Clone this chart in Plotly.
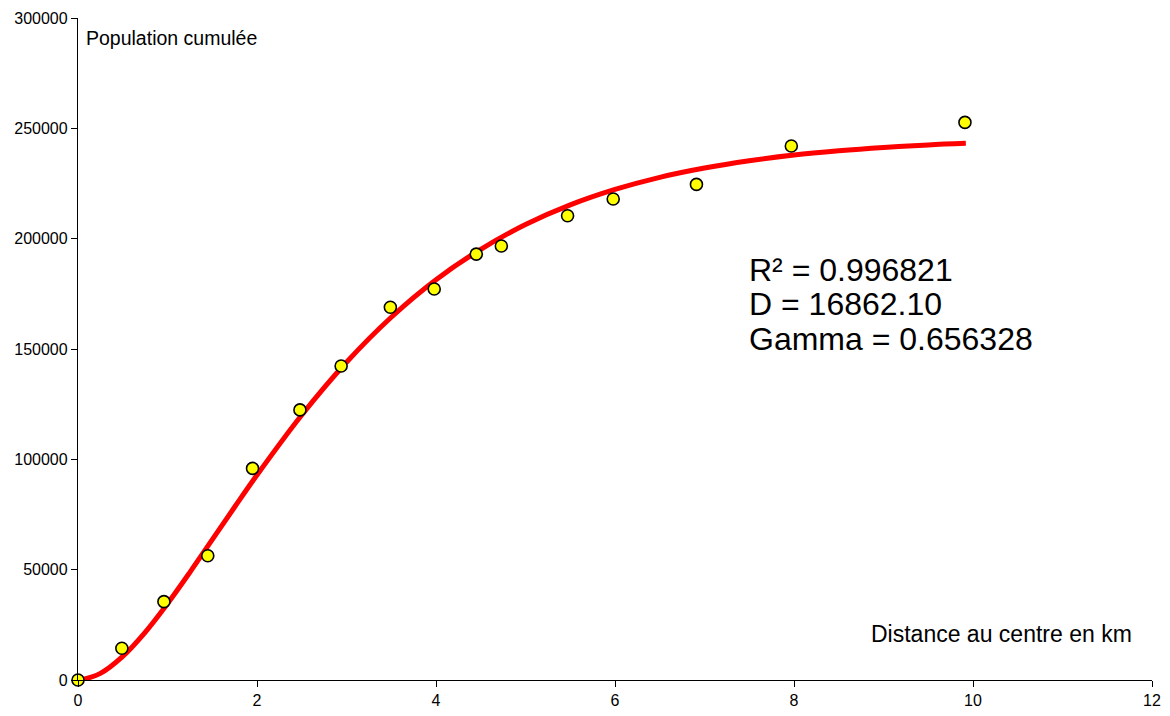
import plotly.graph_objects as go

# Observed data (distance in km, cumulative population)
dist_km = [0.0, 0.49, 0.96, 1.45, 1.95, 2.48, 2.94, 3.49, 3.98, 4.45, 4.73, 5.47, 5.98, 6.91, 7.97, 9.91]
pop_cum = [0, 14400, 35500, 56300, 95900, 122400, 142300, 168900, 177200, 193000, 196700, 210400, 218000, 224600, 242000, 252700]

# Fitted curve
fit_x = [0.03, 0.25, 0.5, 0.75, 1.0, 1.25, 1.5, 1.75, 2.0, 2.5, 3.0, 3.5, 4.0, 4.5, 5.0,
         5.5, 6.0, 6.5, 7.0, 7.5, 8.0, 8.5, 9.0, 9.5, 9.92]
fit_y = [0, 3000, 10700, 21600, 34600, 48800, 63600, 78400, 92900, 120100, 144000, 164400,
         181400, 195200, 206400, 215300, 222300, 227800, 232000, 235300, 237900, 239800,
         241300, 242500, 243200]

x_ticks = [0, 2, 4, 6, 8, 10, 12]
y_ticks = [0, 50000, 100000, 150000, 200000, 250000, 300000]

stats_lines = ["R² = 0.996821", "D = 16862.10", "Gamma = 0.656328"]

OFF = 8  # page body margin
W, H = 1170 - 2 * OFF, 716 - 2 * OFF
# plot-area edges in page pixels
X0, X1, Y0, Y1 = 78, 1152, 18, 680
L, R, T, B = X0 - OFF, W - (X1 - OFF), Y0 - OFF, H - (Y1 - OFF)
pw, ph = X1 - X0, Y1 - Y0

def px(xp):
    return (xp - X0) / pw

def py(yp):
    return (Y1 - yp) / ph

fig = go.Figure()
fig.add_trace(go.Scatter(
    x=fit_x, y=fit_y, mode="lines",
    line=dict(color="#FF0000", width=5, shape="spline"),
    cliponaxis=False, hoverinfo="skip", showlegend=False))
fig.add_trace(go.Scatter(
    x=dist_km, y=pop_cum, mode="markers",
    marker=dict(color="#FFFF00", size=12, line=dict(color="#000000", width=1.6)),
    cliponaxis=False, showlegend=False))

font_family = "Liberation Sans, Arial, sans-serif"

annotations = [
    dict(x=px(84), y=py(38), xref="paper", yref="paper", text="Population cumulée",
         showarrow=False, xanchor="left", yanchor="middle",
         font=dict(family=font_family, size=19.5, color="#000000")),
    dict(x=px(1134), y=py(634), xref="paper", yref="paper", text="Distance au centre en km",
         showarrow=False, xanchor="right", yanchor="middle",
         font=dict(family=font_family, size=23, color="#000000")),
]
for txt, yc in zip(stats_lines, [270, 304, 339]):
    annotations.append(dict(
        x=px(747), y=py(yc), xref="paper", yref="paper", text=txt,
        showarrow=False, xanchor="left", yanchor="middle",
        font=dict(family=font_family, size=32, color="#000000")))

fig.update_layout(
    width=W, height=H,
    margin=dict(l=L, r=R, t=T, b=B, pad=0, autoexpand=False),
    paper_bgcolor="#FFFFFF", plot_bgcolor="#FFFFFF",
    font=dict(family=font_family, size=16, color="#000000"),
    annotations=annotations,
    xaxis=dict(range=[0, 12], tickvals=x_ticks, ticktext=[str(v) for v in x_ticks],
               showgrid=False, zeroline=False, showline=True, linecolor="#000000",
               linewidth=1.3, ticks="outside", ticklen=6, tickcolor="#000000",
               tickfont=dict(size=16), automargin=False),
    yaxis=dict(range=[0, 300000], tickvals=y_ticks, ticktext=[str(v) for v in y_ticks],
               showgrid=False, zeroline=False, showline=True, linecolor="#000000",
               linewidth=1.3, ticks="outside", ticklen=6, tickcolor="#000000",
               tickfont=dict(size=16), automargin=False),
)

fig.write_html("out.html")
